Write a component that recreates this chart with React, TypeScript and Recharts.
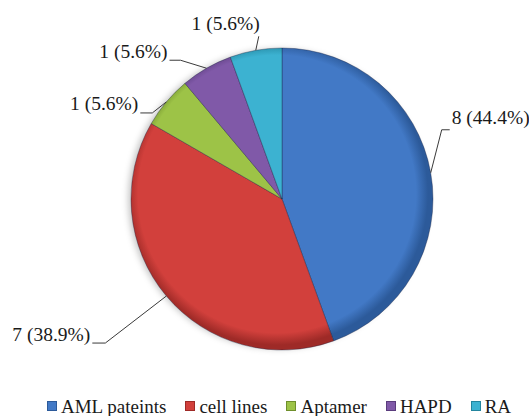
import React from "react";
import { PieChart, Pie, Cell, Legend, Customized } from "recharts";

const categories = ["AML pateints", "cell lines", "Aptamer", "HAPD", "RA"];
const counts = [8, 7, 1, 1, 1];

const colors = ["#4279c6", "#d2403c", "#9dc347", "#8059a8", "#3cb2d1"];
const edgeColors = ["#2c5a9a", "#9e2a27", "#6f8f2c", "#5a3c7d", "#23859e"];

// leader line shape for each slice: edge -> elbow (dx, dy), then a short flat run (h)
const labelLayout = [
  { dx: 11, dy: -43, h: 8, ty: -12 },
  { dx: -61, dy: 47, h: -13, ty: -9 },
  { dx: -14, dy: 11, h: -12, ty: -9 },
  { dx: -26, dy: -8, h: -11, ty: -9 },
  { dx: 3, dy: -14, h: 0, ty: -13 },
];

const data = categories.map((name, i) => ({ name, value: counts[i] }));
const total = counts.reduce((a, b) => a + b, 0);

const RADIAN = Math.PI / 180;
const FONT = "'Liberation Serif', 'Times New Roman', serif";

const CX = 277;
const CY = 194;
const R = 151;

const renderLabel = (props: any) => {
  const { cx, cy, midAngle, outerRadius, value, index } = props;
  const ex = cx + outerRadius * Math.cos(-midAngle * RADIAN);
  const ey = cy + outerRadius * Math.sin(-midAngle * RADIAN);
  const l = labelLayout[index];
  const bx = ex + l.dx;
  const by = ey + l.dy;
  const fx = bx + l.h;
  const pct = ((value / total) * 100).toFixed(1);
  let tx = fx + (l.h > 0 ? 2 : -2);
  let anchor = l.h > 0 ? "start" : "end";
  if (l.h === 0) {
    tx = bx + 1;
    anchor = "end";
  }
  return (
    <g>
      <polyline
        points={`${ex},${ey} ${bx},${by} ${fx},${by}`}
        fill="none"
        stroke="#3a3a3a"
        strokeWidth={1}
      />
      <text
        x={tx}
        y={by + l.ty}
        textAnchor={anchor}
        dominantBaseline="central"
        fontFamily={FONT}
        fontSize={19.5}
        fill="#1a1a1a"
      >
        {`${value} (${pct}%)`}
      </text>
    </g>
  );
};

const renderLegend = () => (
  <div style={{ display: "flex", alignItems: "flex-start", fontFamily: FONT, fontSize: 19, lineHeight: "20px", color: "#1a1a1a", whiteSpace: "nowrap" }}>
    {categories.map((name, i) => (
      <div key={`leg-${i}`} style={{ display: "flex", alignItems: "flex-start", marginRight: 19 }}>
        <span
          style={{
            display: "inline-block",
            width: 10,
            height: 10,
            marginTop: 4,
            marginRight: 4,
            background: colors[i],
            boxShadow: `inset 0 0 0 1px ${edgeColors[i]}`,
          }}
        />
        <span>{name}</span>
      </div>
    ))}
  </div>
);

// soft shadow under the pie, like the office-style original
const PieShadow = () => (
  <g>
    <defs>
      <filter id="pieShadow" x="-20%" y="-20%" width="140%" height="140%">
        <feGaussianBlur stdDeviation="3" />
      </filter>
    </defs>
    <circle cx={CX + 1} cy={CY + 5} r={R - 1} fill="rgba(0,0,0,0.22)" filter="url(#pieShadow)" />
  </g>
);

export default function App() {
  return (
    <div style={{ position: "absolute", left: 0, top: 0, width: 529, height: 416, background: "#fff" }}>
      <PieChart width={529} height={416}>
        <defs>
          {colors.map((c, i) => (
            <radialGradient key={`g-${i}`} id={`slice-${i}`} gradientUnits="userSpaceOnUse" cx={CX} cy={CY} r={R}>
              <stop offset="0%" stopColor={c} />
              <stop offset="92%" stopColor={c} />
              <stop offset="100%" stopColor={edgeColors[i]} />
            </radialGradient>
          ))}
        </defs>
        <Customized component={PieShadow} />
        <Pie
          data={data}
          dataKey="value"
          nameKey="name"
          cx={CX}
          cy={CY}
          outerRadius={R}
          startAngle={90}
          endAngle={-270}
          stroke="rgba(20,30,60,0.35)"
          strokeWidth={1}
          label={renderLabel}
          labelLine={false}
          isAnimationActive={false}
        >
          {data.map((d, i) => (
            <Cell key={`cell-${i}`} fill={`url(#slice-${i})`} />
          ))}
        </Pie>
        <Legend
          content={renderLegend}
          wrapperStyle={{ left: 47, top: 397, width: 480, bottom: "auto" }}
        />
      </PieChart>
    </div>
  );
}
